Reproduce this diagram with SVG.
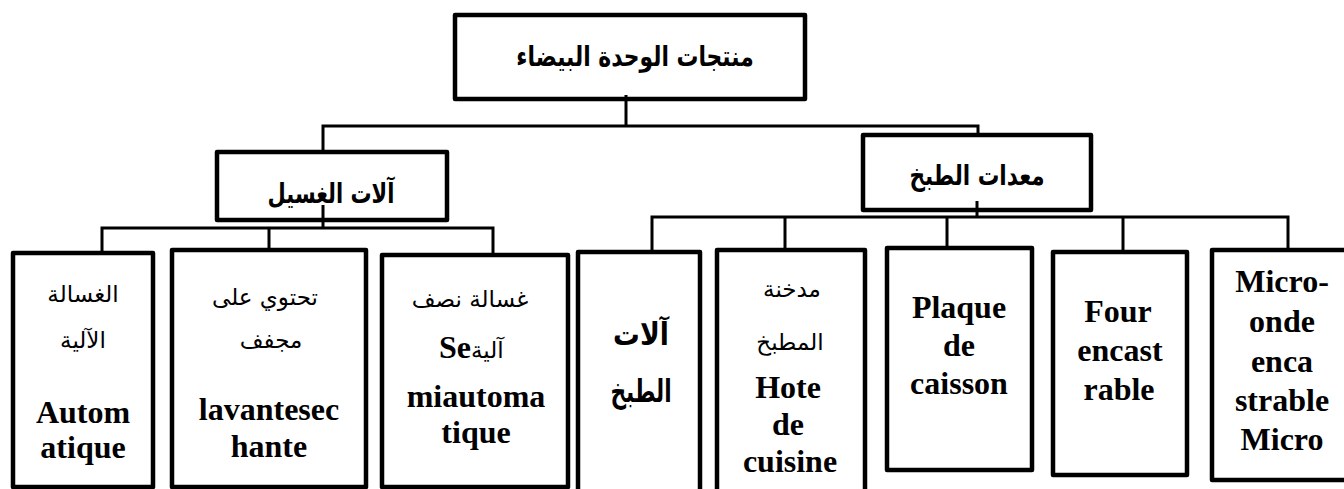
<svg xmlns="http://www.w3.org/2000/svg" width="1344" height="489" viewBox="0 0 1344 489">
  <style>
    .box{fill:#fff;stroke:#000;stroke-width:4.5;stroke-linejoin:round}
    .ln{fill:none;stroke:#000;stroke-width:3}
    text{text-anchor:middle;fill:#000}
    .ar{font-family:"DejaVu Sans",sans-serif;font-size:23px}
    .arb{font-family:"DejaVu Sans",sans-serif;font-size:28px;font-weight:bold}
    .lat{font-family:"Liberation Serif","Times New Roman",serif;font-size:32px;font-weight:bold}
  </style>

  <!-- top level -->
  <g id="root">
    <rect class="box" x="455" y="15" width="350" height="84"/>
    <text class="arb" transform="translate(635,66) scale(0.78,1)">منتجات الوحدة البيضاء</text>
  </g>

  <!-- second level -->
  <g id="washing">
    <rect class="box" x="217" y="152" width="230" height="68"/>
    <text class="arb" transform="translate(331,203) scale(0.75,1)">آلات الغسيل</text>
  </g>
  <g id="cooking">
    <rect class="box" x="863" y="135" width="228" height="75"/>
    <text class="arb" transform="translate(977,185) scale(0.77,1)">معدات الطبخ</text>
  </g>

  <!-- washing machines -->
  <g id="wash-auto">
    <rect class="box" x="13" y="253" width="140" height="234"/>
    <text class="ar" x="83" y="302">الغسالة</text>
    <text class="ar" x="83" y="348">الآلية</text>
    <text class="lat" x="83" y="423">Autom</text>
    <text class="lat" x="83" y="458">atique</text>
  </g>
  <g id="wash-dryer">
    <rect class="box" x="172" y="250" width="194" height="237"/>
    <text class="ar" x="265" y="305">تحتوي على</text>
    <text class="ar" x="271" y="348">مجفف</text>
    <text class="lat" x="269" y="420">lavantesec</text>
    <text class="lat" x="269" y="457">hante</text>
  </g>
  <g id="wash-semi">
    <rect class="box" x="382" y="255" width="186" height="232"/>
    <text class="ar" x="470" y="307">غسالة نصف</text>
    <text x="439" y="358" style="text-anchor:start"><tspan class="lat">Se</tspan><tspan class="ar">آلية</tspan></text>
    <text class="lat" x="476" y="407">miautoma</text>
    <text class="lat" x="476" y="443">tique</text>
  </g>

  <!-- cooking appliances -->
  <g id="cook-appliances">
    <rect class="box" x="578" y="252" width="122" height="250"/>
    <text class="arb" transform="translate(641,345) scale(0.86,1)" style="font-size:31px">آلات</text>
    <text class="arb" transform="translate(641,402) scale(0.7,1)" style="font-size:31px">الطبخ</text>
  </g>
  <g id="cook-hood">
    <rect class="box" x="717" y="250" width="148" height="250"/>
    <text class="ar" x="792" y="297">مدخنة</text>
    <text class="ar" x="790" y="350">المطبخ</text>
    <text class="lat" x="788" y="398">Hote</text>
    <text class="lat" x="788" y="435">de</text>
    <text class="lat" x="790" y="472">cuisine</text>
  </g>
  <g id="cook-hob">
    <rect class="box" x="887" y="248" width="145" height="222"/>
    <text class="lat" x="959" y="318">Plaque</text>
    <text class="lat" x="959" y="356">de</text>
    <text class="lat" x="959" y="394">caisson</text>
  </g>
  <g id="cook-oven">
    <rect class="box" x="1053" y="252" width="134" height="223"/>
    <text class="lat" x="1118" y="322">Four</text>
    <text class="lat" x="1120" y="361">encast</text>
    <text class="lat" x="1119" y="400">rable</text>
  </g>
  <g id="cook-microwave">
    <rect class="box" x="1212" y="250" width="140" height="230"/>
    <text class="lat" x="1282" y="292">Micro-</text>
    <text class="lat" x="1282" y="332">onde</text>
    <text class="lat" x="1282" y="372">enca</text>
    <text class="lat" x="1282" y="411">strable</text>
    <text class="lat" x="1282" y="450">Micro</text>
  </g>

  <!-- connectors -->
  <g id="connectors" class="ln">
    <path d="M626,95 V126"/>
    <path d="M323,152 V126 H978 V135"/>
    <path d="M323,205 V228"/>
    <path d="M102,253 V228 H493 V255"/>
    <path d="M269,228 V250"/>
    <path d="M977,201 V217"/>
    <path d="M652,252 V217 H1288 V250"/>
    <path d="M785,217 V250"/>
    <path d="M947,217 V248"/>
    <path d="M1123,217 V252"/>
  </g>
</svg>
